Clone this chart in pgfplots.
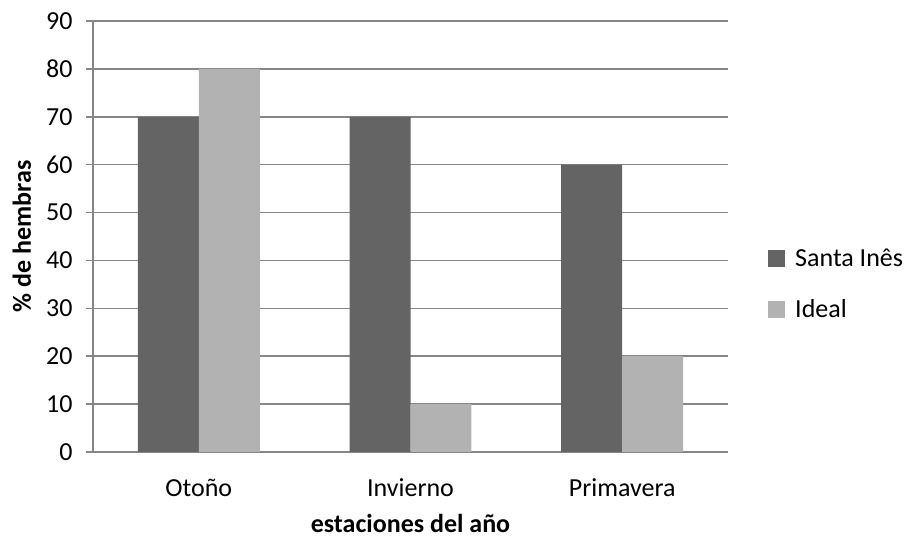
\documentclass[border=0pt]{standalone}
\usepackage{pgfplots}
\pgfplotsset{compat=1.18}
\usepackage{fontspec}
\setmainfont{Carlito}
\definecolor{darkbar}{HTML}{646464}
\definecolor{lightbar}{HTML}{B2B2B2}
\definecolor{axgray}{HTML}{868686}
\begin{document}
\begin{tikzpicture}[font=\fontsize{26}{31}\selectfont]
\begin{axis}[
  at={(0pt,0pt)}, anchor=south west,
  scale only axis,
  width=635pt, height=431pt,
  xmin=-0.5, xmax=2.5,
  ymin=0, ymax=90,
  ytick={0,10,...,90},
  xtick={0,1,2},
  xticklabels={Otoño,Invierno,Primavera},
  xtick style={draw=none},
  minor xtick={-0.5,0.5,1.5,2.5},
  tick align=outside,
  major tick length=7pt,
  minor tick length=7pt,
  tick style={axgray, line width=1.5pt},
  axis x line*=bottom,
  axis y line*=left,
  axis line style={axgray, line width=1.5pt},
  ymajorgrids=true,
  grid style={axgray, line width=1.5pt},
  /pgf/number format/assume math mode=true,
  yticklabel style={xshift=-10pt},
  xticklabel style={anchor=center, yshift=-29pt},
  ylabel={\bfseries \% de hembras},
  xlabel={\bfseries estaciones del año},
  every axis y label/.style={at={(axis description cs:-0.112,0.5)}, rotate=90, anchor=center},
  every axis x label/.style={at={(axis description cs:0.5,0)}, anchor=center, yshift=-71pt},
  ybar, bar width=0.288,
  legend style={at={(1.063,0.39)}, anchor=west, draw=none, fill=none,
    row sep=28pt, column sep=8pt, inner sep=0pt, cells={anchor=west}},
  legend image code/.code={\fill[#1] (0pt,-8.5pt) rectangle (17pt,8.5pt);},
]
\addplot[fill=darkbar, draw=none, bar shift=-0.144] coordinates {(0,70) (1,70) (2,60)};
\addlegendentry{Santa Inês}
\addplot[fill=lightbar, draw=none, bar shift=0.144] coordinates {(0,80) (1,10) (2,20)};
\addlegendentry{Ideal}
\end{axis}
\pgfresetboundingbox
\path[use as bounding box] (-93pt,-85pt) rectangle (811pt,452pt);
\end{tikzpicture}
\end{document}
